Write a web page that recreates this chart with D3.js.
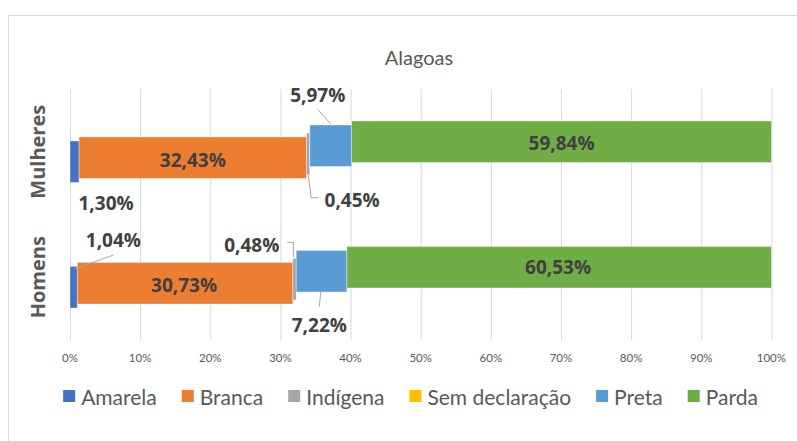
<!DOCTYPE html>
<html><head><meta charset="utf-8">
<script src="https://cdn.jsdelivr.net/npm/d3@7"></script>
<style>body{margin:0;background:#fff}svg{display:block}</style>
</head><body>
<script>
const title = "Alagoas";
const categories = ["Mulheres", "Homens"];
const series = ["Amarela", "Branca", "Indígena", "Sem declaração", "Preta", "Parda"];
const mulheres = [1.30, 32.43, 0.45, 0.01, 5.97, 59.84];
const homens = [1.04, 30.73, 0.48, 0.00, 7.22, 60.53];
const tickValues = [0,10,20,30,40,50,60,70,80,90,100];
const tickLabels = ["0%","10%","20%","30%","40%","50%","60%","70%","80%","90%","100%"];
const colors = ["#4472C4", "#ED7D31", "#A5A5A5", "#FFC000", "#5B9BD5", "#70AD47"];

const W = 797, H = 441;
const svg = d3.select("body").append("svg").attr("width", W).attr("height", H);

// chart frame
svg.append("path").attr("d", `M8.5,${H}V15.5H${W}`).attr("fill","none").attr("stroke","#d9d9d9").attr("stroke-width",1);

const plot = {l:70, r:771.4, t:89, b:340};
const x = d3.scaleLinear().domain([0,100]).range([plot.l, plot.r]);
const y = d3.scaleBand().domain(categories).range([plot.t, plot.b]);
const barH = 41.5;
const sOff = d3.scalePoint().domain(series).range([10,-10]);

// gridlines
svg.append("g").selectAll("line").data(tickValues).join("line")
  .attr("x1", d=>x(d)+0.5).attr("x2", d=>x(d)+0.5)
  .attr("y1", plot.t).attr("y2", plot.b)
  .attr("stroke", "#d9d9d9").attr("stroke-width", 1);

// tick labels
svg.append("g").selectAll("text").data(tickValues).join("text")
  .attr("x", d=>x(d)).attr("y", 357).attr("text-anchor","middle").attr("dominant-baseline","central")
  .attr("font-family","Lato, 'Open Sans', sans-serif").attr("font-size", 11.5).attr("fill","#595959")
  .text((d,i)=>tickLabels[i]);

// title
svg.append("text").attr("x", 419).attr("y", 57).attr("text-anchor","middle").attr("dominant-baseline","central")
  .attr("font-family","Lato, 'Open Sans', sans-serif").attr("font-size", 20).attr("fill","#595959").text(title);

// stacked data
const rows = [mulheres, homens];
const segs = [];
categories.forEach((c, ci) => {
  let acc = 0;
  series.forEach((s, si) => {
    const v = rows[ci][si];
    const y0 = y(c) + y.bandwidth()/2 - barH/2 + sOff(s);
    segs.push({c, ci, s, si, v, x0: x(acc), x1: x(acc+v), y0, y1: y0+barH});
    acc += v;
  });
});

svg.append("g").selectAll("rect").data(segs.filter(d=>d.v>0)).join("rect")
  .attr("x", d=>d.x0).attr("y", d=>d.y0)
  .attr("width", d=>Math.max(0, d.x1-d.x0)).attr("height", barH)
  .attr("fill", d=>colors[d.si])
  .attr("stroke", "#ffffff").attr("stroke-opacity", 0.45).attr("stroke-width", 0.8);

// category labels
svg.append("g").selectAll("text").data(categories).join("text")
  .attr("transform", c => `translate(37,${y(c)+y.bandwidth()/2}) rotate(-90)`)
  .attr("text-anchor","middle").attr("dominant-baseline","central")
  .attr("font-family","'Open Sans', sans-serif").attr("font-weight","bold").attr("font-size", 20).attr("fill","#595959")
  .text(c=>c);

// data labels: placement relative to segment center (cx, cy)
const fmt = v => v.toFixed(2).replace(".", ",") + "%";
const place = {
  "Mulheres|Amarela": {dx: 31.5, dy: 41.5},
  "Mulheres|Branca": {dx: 0, dy: 2},
  "Mulheres|Indígena": {dx: 44, dy: 46, leader: [[0,20.7],[3,44],[10.3,44]]},
  "Mulheres|Preta": {dx: -13, dy: -50.7, leader: [[0,-21.7],[-13,-36.4]]},
  "Mulheres|Parda": {dx: 0, dy: 1.5},
  "Homens|Amarela": {dx: 39.7, dy: -47.2, leader: [[0,-18],[39.7,-32.2]]},
  "Homens|Branca": {dx: -1, dy: 2},
  "Homens|Indígena": {dx: -42.8, dy: -34.2, leader: [[-7.2,-36.9],[-1.2,-36.9],[-1.2,-22.2]]},
  "Homens|Preta": {dx: -2.2, dy: 53.8, leader: [[-0.8,20.5],[-2.2,35.5]]},
  "Homens|Parda": {dx: -1, dy: -0.5}
};
const lab = svg.append("g");
segs.forEach(d => {
  const p = place[d.c + "|" + d.s];
  if (!p) return;
  const cx = (d.x0 + d.x1)/2, cy = (d.y0 + d.y1)/2;
  if (p.leader) {
    lab.append("path").attr("d", d3.line()(p.leader.map(q=>[cx+q[0], cy+q[1]])))
      .attr("fill","none").attr("stroke","#a6a6a6").attr("stroke-width",1);
  }
  lab.append("text").attr("x", cx + p.dx).attr("y", cy + p.dy)
    .attr("text-anchor","middle").attr("dominant-baseline","central")
    .attr("font-family","'Open Sans', sans-serif").attr("font-weight","bold").attr("font-size", 19)
    .attr("fill","#404040").text(fmt(d.v));
});

// legend
const lg = svg.append("g");
let lx = 0;
series.forEach((s, i) => {
  const g = lg.append("g").attr("transform", `translate(${lx},0)`);
  g.append("rect").attr("x",0).attr("y",-6).attr("width",12).attr("height",12).attr("fill",colors[i]);
  const t = g.append("text").attr("x", 18).attr("y", 0).attr("dominant-baseline","central")
    .attr("font-family","Lato, sans-serif").attr("font-size", 21).attr("fill","#595959").text(s);
  lx += 18 + t.node().getComputedTextLength() + 25;
});
const lw = lx - 25;
lg.attr("transform", `translate(${410.5 - lw/2},396)`);
</script>
</body></html>
